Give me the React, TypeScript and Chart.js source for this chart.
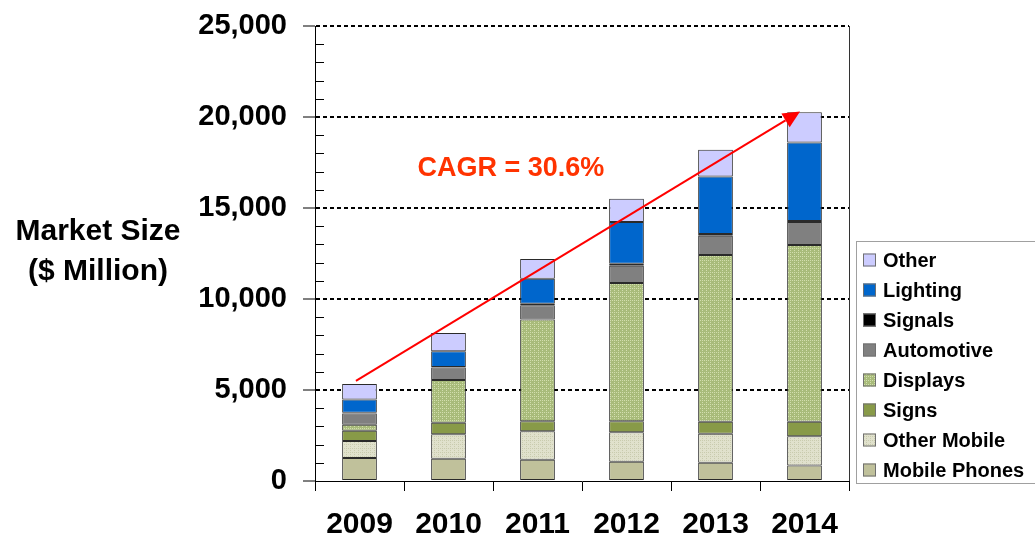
import React, { useEffect, useRef } from "react";
import { Chart, registerables } from "chart.js";

Chart.register(...registerables);

const categories = ["2009", "2010", "2011", "2012", "2013", "2014"];
const mobilePhones = [1270, 1220, 1165, 1055, 1000, 850];
const otherMobile = [930, 1350, 1570, 1625, 1590, 1610];
const signs = [555, 625, 545, 600, 660, 790];
const displays = [330, 2355, 5600, 7600, 9165, 9715];
const automotive = [630, 680, 770, 950, 1060, 1260];
const signals = [30, 40, 90, 100, 90, 60];
const lighting = [730, 855, 1375, 2300, 3165, 4310];
const other = [860, 1010, 1080, 1275, 1465, 1670];

const yMax = 25000;
const yStep = 5000;
const yMinorStep = 1000;

const cagrLabel = "CAGR = 30.6%";
const cagrStart = { x: -0.04, y: 5500 };
const cagrEnd = { x: 4.95, y: 20300 };
const cagrTextAt = { x: 1.7, y: 17150 };

const yTitleLines = ["Market Size", "($ Million)"];

const FONT = '"Liberation Sans", Arial, sans-serif';

function makePattern(base: string, dot: string) {
  const c = document.createElement("canvas");
  c.width = 4;
  c.height = 4;
  const x = c.getContext("2d")!;
  x.fillStyle = base;
  x.fillRect(0, 0, 4, 4);
  x.fillStyle = dot;
  x.fillRect(0, 0, 1, 1);
  x.fillRect(2, 2, 1, 1);
  x.fillRect(2, 0, 1, 1);
  return x.createPattern(c, "repeat") as CanvasPattern;
}

export default function App() {
  const ref = useRef<HTMLCanvasElement | null>(null);

  useEffect(() => {
    if (!ref.current) return;
    const displaysFill = makePattern("#a8bb7a", "#d2deae");
    const otherMobileFill = makePattern("#e0e1cc", "#c9cbae");

    const datasets = [
      { label: "Mobile Phones", data: mobilePhones, backgroundColor: "#c0c19b" },
      { label: "Other Mobile", data: otherMobile, backgroundColor: otherMobileFill },
      { label: "Signs", data: signs, backgroundColor: "#889a48" },
      { label: "Displays", data: displays, backgroundColor: displaysFill },
      { label: "Automotive", data: automotive, backgroundColor: "#808080" },
      { label: "Signals", data: signals, backgroundColor: "#000000" },
      { label: "Lighting", data: lighting, backgroundColor: "#0066cc" },
      { label: "Other", data: other, backgroundColor: "#ccccff" },
    ].map((d) => ({
      ...d,
      borderColor: "#2a2a2a",
      borderWidth: 1,
      borderSkipped: false as const,
      categoryPercentage: 1,
      barPercentage: 0.39,
    }));

    const extras = {
      id: "extras",
      afterDatasetsDraw(chart: any) {
        const { ctx, chartArea, scales } = chart;
        const xs = scales.x;
        const ys = scales.y;
        ctx.save();
        // right border of plot
        ctx.strokeStyle = "#333";
        ctx.lineWidth = 1;
        ctx.beginPath();
        ctx.moveTo(Math.round(chartArea.right) + 0.5, chartArea.top);
        ctx.lineTo(Math.round(chartArea.right) + 0.5, chartArea.bottom);
        ctx.stroke();
        // minor ticks on inside of y axis
        ctx.strokeStyle = "#000";
        for (let v = yMinorStep; v < yMax; v += yMinorStep) {
          if (v % yStep === 0) continue;
          const py = Math.round(ys.getPixelForValue(v)) + 0.5;
          ctx.beginPath();
          ctx.moveTo(chartArea.left, py);
          ctx.lineTo(chartArea.left + 9, py);
          ctx.stroke();
        }
        // arrow
        const x1 = xs.getPixelForValue(cagrStart.x);
        const y1 = ys.getPixelForValue(cagrStart.y);
        const x2 = xs.getPixelForValue(cagrEnd.x);
        const y2 = ys.getPixelForValue(cagrEnd.y);
        const ang = Math.atan2(y2 - y1, x2 - x1);
        const headLen = 17;
        const headHalf = 8;
        const bx = x2 - headLen * Math.cos(ang);
        const by = y2 - headLen * Math.sin(ang);
        ctx.strokeStyle = "#ff0000";
        ctx.lineWidth = 2;
        ctx.beginPath();
        ctx.moveTo(x1, y1);
        ctx.lineTo(bx, by);
        ctx.stroke();
        ctx.fillStyle = "#ff0000";
        ctx.beginPath();
        ctx.moveTo(x2, y2);
        ctx.lineTo(bx + headHalf * Math.sin(ang), by - headHalf * Math.cos(ang));
        ctx.lineTo(bx - headHalf * Math.sin(ang), by + headHalf * Math.cos(ang));
        ctx.closePath();
        ctx.fill();
        // CAGR text
        ctx.fillStyle = "#ff3300";
        ctx.font = `bold 27px ${FONT}`;
        ctx.textAlign = "center";
        ctx.textBaseline = "middle";
        ctx.fillText(cagrLabel, xs.getPixelForValue(cagrTextAt.x), ys.getPixelForValue(cagrTextAt.y));
        ctx.restore();
      },
      afterDraw(chart: any) {
        const { ctx } = chart;
        ctx.save();
        // y title
        ctx.fillStyle = "#000";
        ctx.font = `bold 30px ${FONT}`;
        ctx.textAlign = "center";
        ctx.textBaseline = "middle";
        ctx.fillText(yTitleLines[0], 98, 232);
        ctx.fillText(yTitleLines[1], 98, 272);
        // legend
        const lx = 856;
        const ly = 241;
        ctx.strokeStyle = "#a0a0a0";
        ctx.lineWidth = 1;
        ctx.strokeRect(lx + 0.5, ly + 0.5, 220, 242);
        const ds = chart.data.datasets.slice().reverse();
        ctx.font = `bold 20px ${FONT}`;
        ctx.textAlign = "left";
        ds.forEach((d: any, i: number) => {
          const cy = 260 + i * 30;
          ctx.fillStyle = d.backgroundColor;
          ctx.fillRect(863, cy - 6.5, 13, 13);
          ctx.strokeStyle = "#707070";
          ctx.strokeRect(863.5, cy - 6, 12, 12);
          ctx.fillStyle = "#000";
          ctx.fillText(d.label, 883, cy + 1);
        });
        ctx.restore();
      },
    };

    const chart = new Chart(ref.current, {
      type: "bar",
      data: { labels: categories, datasets },
      options: {
        animation: false,
        responsive: true,
        maintainAspectRatio: false,
        layout: { padding: { top: 26, right: 186, left: 0, bottom: 0 } },
        plugins: { legend: { display: false }, tooltip: { enabled: false } },
        scales: {
          x: {
            stacked: true,
            grid: {
              offset: true,
              drawOnChartArea: false,
              drawTicks: true,
              tickLength: 10,
              tickColor: "#000",
              tickWidth: 1,
            },
            border: { display: true, color: "#000", width: 1 },
            ticks: {
              color: "#000",
              font: { family: FONT, size: 30, weight: "bold" },
              padding: 16,
              maxRotation: 0,
            },
            afterFit: (s: any) => {
              s.height = 62;
              s.paddingLeft = 0;
              s.paddingRight = 0;
            },
          },
          y: {
            stacked: true,
            min: 0,
            max: yMax,
            grid: {
              color: (c: any) => (c.tick && c.tick.value === 0 ? "rgba(0,0,0,0)" : "#000"),
              lineWidth: 2,
              tickLength: 12,
              tickColor: "#000",
              tickWidth: 1,
              tickBorderDash: [],
            },
            border: { display: true, color: "#000", width: 1, dash: [4, 3] },
            ticks: {
              stepSize: yStep,
              color: "#000",
              padding: 16,
              font: { family: FONT, size: 29, weight: "bold" },
              callback: (v: any) => Number(v).toLocaleString("en-US"),
            },
            afterFit: (s: any) => {
              s.width = 315;
              s.paddingTop = 0;
              s.paddingBottom = 0;
            },
          },
        },
      },
      plugins: [extras],
    });
    return () => chart.destroy();
  }, []);

  return (
    <div style={{ position: "absolute", left: 0, top: 0, width: 1035, height: 543, background: "#fff" }}>
      <canvas ref={ref} />
    </div>
  );
}
